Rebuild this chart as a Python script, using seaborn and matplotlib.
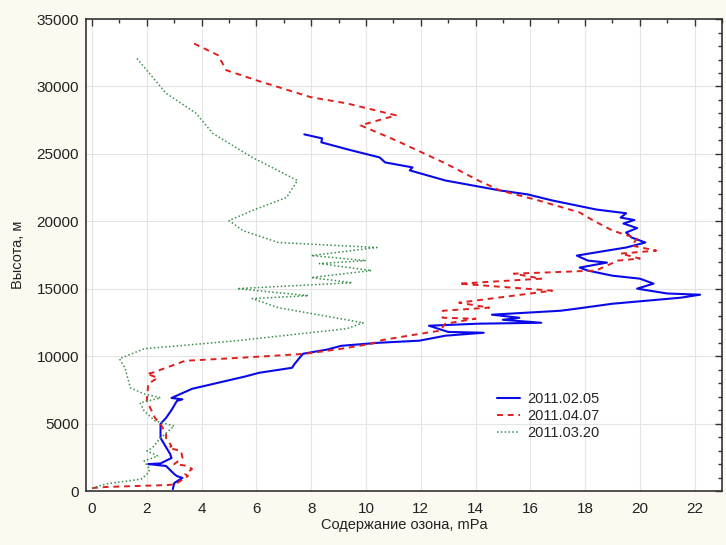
import matplotlib
matplotlib.use("Agg")
import matplotlib.pyplot as plt
import seaborn as sns
import pandas as pd
from matplotlib.ticker import MultipleLocator

# ---- data (ozone partial pressure, mPa vs height, m) ----
blue_h = [150, 590, 970, 1110, 1260, 1860, 2000, 2050, 2450, 2750, 3940, 4980, 5420, 6000,
          6690, 6800, 6900, 7580, 8170, 8500, 8770, 9140, 9440, 10180, 10500, 10770, 10920, 11000,
          11150, 11520, 11740, 11800, 12260, 12410, 12480, 12700, 12850, 13080, 13370, 13500,
          13890, 14340, 14560, 14650, 15010, 15380, 15750, 15970, 16350, 16570, 16940, 17090,
          17460, 17830, 18060, 18430, 18800, 19170, 19500, 19840, 20100, 20280, 20600, 20880,
          21550, 22000, 22290, 23030, 23780, 24000, 24370, 24740, 25300, 25860, 26150, 26450]
blue_x = [2.95, 3.0, 3.3, 3.1, 3.0, 2.7, 2.05, 2.5, 2.9, 2.85, 2.5, 2.5, 2.7, 2.9,
          3.1, 3.3, 2.9, 3.65, 4.9, 5.6, 6.1, 7.3, 7.4, 7.7, 8.6, 9.1, 10.0, 10.5,
          11.95, 12.9, 14.3, 13.0, 12.3, 14.1, 16.4, 15.0, 15.6, 14.6, 17.1, 17.6,
          19.0, 21.5, 22.2, 21.0, 19.9, 20.5, 20.0, 19.0, 18.1, 17.8, 18.8, 18.1,
          17.7, 18.8, 19.5, 20.2, 19.7, 19.5, 19.9, 19.4, 19.8, 19.3, 19.5, 18.4,
          16.8, 15.9, 14.9, 12.9, 11.6, 11.7, 10.7, 10.5, 9.4, 8.37, 8.4, 7.75]

red_h = [220, 300, 450, 520, 1110, 1260, 1630, 1860, 2000, 2450, 2970, 3200, 3340, 3940,
         4230, 4980, 5420, 6690, 7950, 8400, 8690, 8770, 9660, 9880, 10030, 10180, 10550,
         10920, 11200, 11670, 11890, 12410, 12780, 12850, 13370, 13600, 13970, 14490, 14860,
         15380, 15750, 16120, 16350, 17090, 17240, 17610, 17830, 18200, 18720, 19320, 20060,
         20660, 21550, 22290, 23030, 23780, 24300, 26000, 27120, 27860, 28750, 29200, 30460,
         31210, 32320, 33210]
red_x = [0.0, 0.5, 2.8, 3.05, 3.5, 3.4, 3.65, 3.5, 3.0, 3.3, 3.25, 2.8, 2.9, 2.7,
         2.7, 2.5, 2.3, 2.0, 2.05, 2.4, 2.0, 2.2, 3.4, 5.4, 6.6, 7.8, 9.1,
         10.2, 10.6, 12.0, 12.7, 12.9, 14.0, 12.8, 12.8, 14.5, 13.4, 15.4, 16.8,
         13.4, 16.4, 15.4, 18.4, 19.2, 20.0, 19.3, 20.6, 19.7, 19.9, 19.0, 18.3,
         17.8, 16.3, 14.9, 14.1, 13.4, 12.9, 11.1, 9.8, 11.1, 9.3, 8.0, 6.0,
         4.9, 4.6, 3.7]

green_h = [220, 520, 890, 1340, 1630, 2230, 2600, 2970, 3200, 3940, 4830, 5200, 5940, 6540,
           6910, 7210, 7650, 9140, 9810, 10550, 11150, 12040, 12480, 13600, 14270, 14490,
           15010, 15450, 15830, 16350, 16870, 17090, 17460, 18060, 18430, 19320, 20060, 20800,
           21770, 23030, 24740, 26530, 28010, 29500, 32170]
green_x = [0.0, 0.5, 1.8, 2.05, 2.1, 1.9, 2.4, 2.0, 2.2, 2.5, 3.0, 2.3, 1.9, 1.75,
           2.5, 1.9, 1.4, 1.2, 1.0, 1.9, 5.3, 9.3, 9.9, 6.8, 5.85, 7.9,
           5.3, 9.5, 8.0, 10.2, 8.3, 10.0, 8.0, 10.4, 6.8, 5.5, 5.0, 5.85,
           7.1, 7.5, 5.85, 4.4, 3.8, 2.7, 1.6]

labels = ["2011.02.05", "2011.04.07", "2011.03.20"]
x_ticks = list(range(0, 23, 2))
y_ticks = list(range(0, 35001, 5000))

# ---- plotting ----
sns.set_theme(style="white")
plt.rcParams["font.family"] = ["Liberation Sans", "DejaVu Sans"]

fig = plt.figure(figsize=(7.26, 5.45), dpi=100, facecolor="#fbf9f0")
ax = fig.add_axes([0.1185, 0.099, 0.876, 0.866])
ax.set_facecolor("white")

series = [
    (blue_x, blue_h, labels[0], "#0a0ae8", "-", 1.5),
    (red_x, red_h, labels[1], "#e01e1e", (0, (3, 2.5)), 1.4),
    (green_x, green_h, labels[2], "#3a8f4a", (0, (1, 1.5)), 1.1),
]
for xs, hs, lab, col, ls, lw in series:
    df = pd.DataFrame({"x": xs, "h": hs})
    sns.lineplot(data=df, x="x", y="h", sort=False, estimator=None, ax=ax,
                 color=col, linestyle=ls, linewidth=lw, label=lab)

ax.set_xlim(-0.22, 23)
ax.set_ylim(0, 35000)
ax.set_xticks(x_ticks)
ax.set_yticks(y_ticks)
ax.xaxis.set_minor_locator(MultipleLocator(1))
ax.yaxis.set_minor_locator(MultipleLocator(1000))
ax.tick_params(which="both", direction="in", top=True, right=True,
               colors="#333333", labelcolor="#222222", labelsize=11)
ax.tick_params(which="major", length=5, width=1)
ax.tick_params(which="minor", length=3, width=1)
ax.tick_params(axis="x", pad=8)
ax.tick_params(axis="y", pad=5)
ax.grid(True, which="major", color="#e4e4e4", linewidth=0.8)
for s in ax.spines.values():
    s.set_color("#333333")
    s.set_linewidth(1.2)

ax.set_xlabel("Содержание озона, mPa", fontsize=10.5, color="#222222", labelpad=1)
ax.set_ylabel("Высота, м", fontsize=10.5, color="#222222", labelpad=8)

leg = ax.legend(loc="upper left", bbox_to_anchor=(0.625, 0.237), frameon=False,
                fontsize=10.5, handlelength=1.6, handletextpad=0.5, labelspacing=0.2)

fig.savefig("out.png", dpi=100, facecolor=fig.get_facecolor())
